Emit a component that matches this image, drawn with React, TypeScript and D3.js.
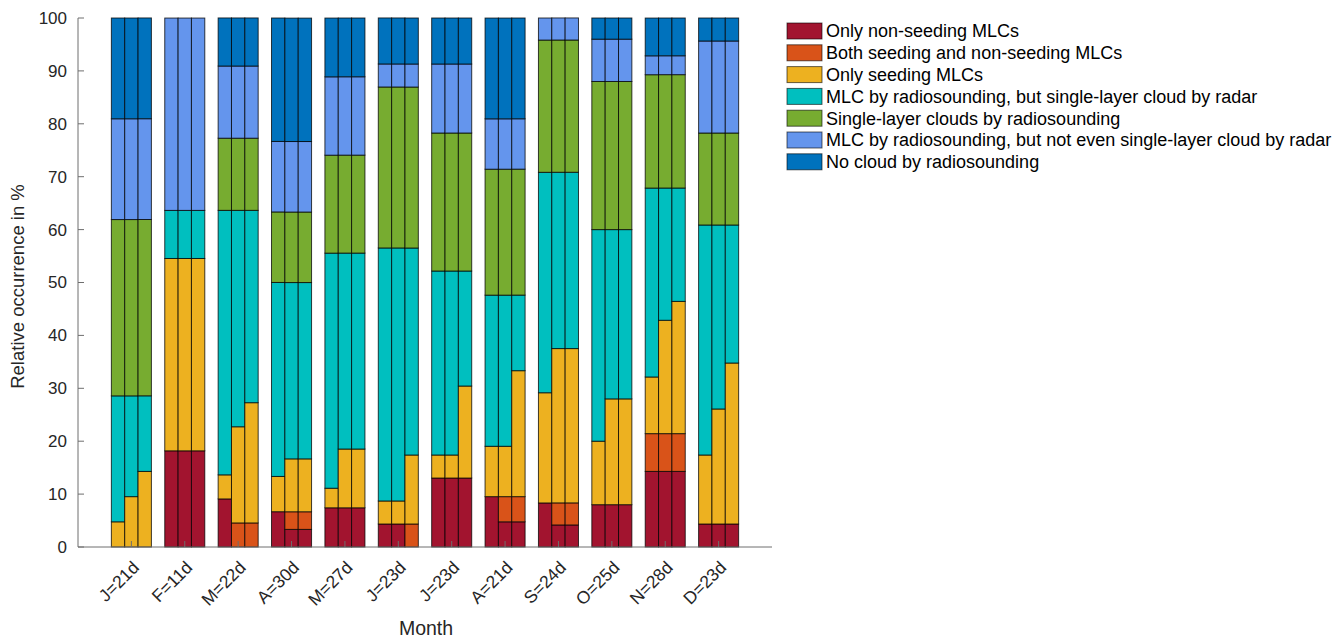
import React from "react";
import * as d3 from "d3";

const months = ["J=21d", "F=11d", "M=22d", "A=30d", "M=27d", "J=23d", "J=23d", "A=21d", "S=24d", "O=25d", "N=28d", "D=23d"];

const seriesNames = [
  "Only non-seeding MLCs",
  "Both seeding and non-seeding MLCs",
  "Only seeding MLCs",
  "MLC by radiosounding, but single-layer cloud by radar",
  "Single-layer clouds by radiosounding",
  "MLC by radiosounding, but not even single-layer cloud by radar",
  "No cloud by radiosounding",
];
const colors = ["#A2142F", "#D95319", "#EDB120", "#00BFBF", "#77AC30", "#6495ED", "#0072BD"];

// per month: three sub-bars, segment heights in %
const onlyNonSeeding = [
  [0, 0, 0], [18.18, 18.18, 18.18], [9.09, 0, 0], [6.67, 3.33, 3.33], [7.41, 7.41, 7.41], [4.35, 4.35, 0],
  [13.04, 13.04, 13.04], [9.52, 4.76, 4.76], [8.33, 4.17, 4.17], [8, 8, 8], [14.29, 14.29, 14.29], [4.35, 4.35, 4.35],
];
const bothSeeding = [
  [0, 0, 0], [0, 0, 0], [0, 4.55, 4.55], [0, 3.33, 3.33], [0, 0, 0], [0, 0, 4.35],
  [0, 0, 0], [0, 4.76, 4.76], [0, 4.17, 4.17], [0, 0, 0], [7.14, 7.14, 7.14], [0, 0, 0],
];
const onlySeeding = [
  [4.76, 9.52, 14.29], [36.36, 36.36, 36.36], [4.55, 18.18, 22.73], [6.67, 10.0, 10.0], [3.7, 11.11, 11.11], [4.35, 4.35, 13.04],
  [4.35, 4.35, 17.39], [9.52, 9.52, 23.81], [20.83, 29.17, 29.17], [12, 20, 20], [10.71, 21.43, 25.0], [13.04, 21.74, 30.43],
];
const mlcSingleRadar = [
  [23.81, 19.05, 14.29], [9.09, 9.09, 9.09], [50.0, 40.91, 36.36], [36.67, 33.33, 33.33], [44.44, 37.04, 37.04], [47.83, 47.83, 39.13],
  [34.78, 34.78, 21.74], [28.57, 28.57, 14.29], [41.67, 33.33, 33.33], [40, 32, 32], [35.71, 25.0, 21.43], [43.48, 34.78, 26.09],
];
const singleLayer = [33.33, 0, 13.64, 13.33, 18.52, 30.43, 26.09, 23.81, 25.0, 28, 21.43, 17.39];
const mlcNoRadar = [19.05, 36.36, 13.64, 13.33, 14.81, 4.35, 13.04, 9.52, 4.17, 8, 3.57, 17.39];
const noCloud = [19.05, 0, 9.09, 23.33, 11.11, 8.7, 8.7, 19.05, 0, 4, 7.14, 4.35];

const yTicks = [0, 10, 20, 30, 40, 50, 60, 70, 80, 90, 100];

const W = 1336, H = 638;
const left = 78, right = 772, top = 18, bottom = 547;
const FONT = "'Liberation Sans', Arial, Helvetica, sans-serif";
const TXT = "#262626";
const AX = "#6e6e6e";

export default function App() {
  const x = d3.scaleLinear().domain([0, months.length + 1]).range([left, right]);
  const y = d3.scaleLinear().domain([0, 100]).range([bottom, top]);
  const step = x(1) - x(0);
  const bw = step * 0.25;

  const rects: React.ReactElement[] = [];
  months.forEach((m, i) => {
    for (let j = 0; j < 3; j++) {
      const vals = [
        onlyNonSeeding[i][j], bothSeeding[i][j], onlySeeding[i][j], mlcSingleRadar[i][j],
        singleLayer[i], mlcNoRadar[i], noCloud[i],
      ];
      const stack = d3.cumsum(vals);
      const cx = x(i + 1) + (j - 1) * bw;
      vals.forEach((v, k) => {
        if (v <= 0) return;
        const y0 = k === 0 ? 0 : stack[k - 1];
        const y1 = stack[k];
        rects.push(
          <rect key={`${i}-${j}-${k}`} x={cx - bw / 2} width={bw} y={y(y1)} height={y(y0) - y(y1)}
            fill={colors[k]} stroke="#000" strokeOpacity={0.75} strokeWidth={1} />
        );
      });
    }
  });

  return (
    <svg width={W} height={H} style={{ position: "absolute", left: 0, top: 0, background: "#fff" }} fontFamily={FONT}>
      <rect x={0} y={0} width={W} height={H} fill="#fff" />
      {rects}
      {/* axes */}
      <line x1={left} x2={left} y1={top} y2={bottom} stroke={AX} strokeWidth={1} />
      <line x1={left} x2={right} y1={bottom} y2={bottom} stroke={AX} strokeWidth={1} />
      {yTicks.map((t) => (
        <g key={t}>
          <line x1={left} x2={left + 6} y1={y(t)} y2={y(t)} stroke={AX} strokeWidth={1} />
          <text x={left - 11} y={y(t)} dy="0.35em" textAnchor="end" fontSize={17} fill={TXT}>{t}</text>
        </g>
      ))}
      {months.map((m, i) => (
        <g key={m + i}>
          <line x1={x(i + 1)} x2={x(i + 1)} y1={bottom} y2={bottom - 6} stroke={AX} strokeWidth={1} />
          <text transform={`translate(${x(i + 1)},${bottom + 13}) rotate(-45)`} textAnchor="end" dy="0.7em"
            fontSize={17.5} fill={TXT}>{m}</text>
        </g>
      ))}
      <text transform={`translate(24,${(top + bottom) / 2 + 4}) rotate(-90)`} textAnchor="middle" fontSize={18.5} fill={TXT}>
        Relative occurrence in %
      </text>
      <text x={(left + right) / 2 + 1} y={635} textAnchor="middle" fontSize={19.5} fill={TXT}>Month</text>
      {/* legend */}
      {seriesNames.map((s, k) => (
        <g key={s} transform={`translate(787,${23 + k * 21.8})`}>
          <rect x={0} y={0} width={35} height={16} fill={colors[k]} stroke="#000" strokeOpacity={0.6} strokeWidth={1} />
          <text x={39} y={8} dy="0.36em" fontSize={18} fill="#000">{s}</text>
        </g>
      ))}
    </svg>
  );
}
